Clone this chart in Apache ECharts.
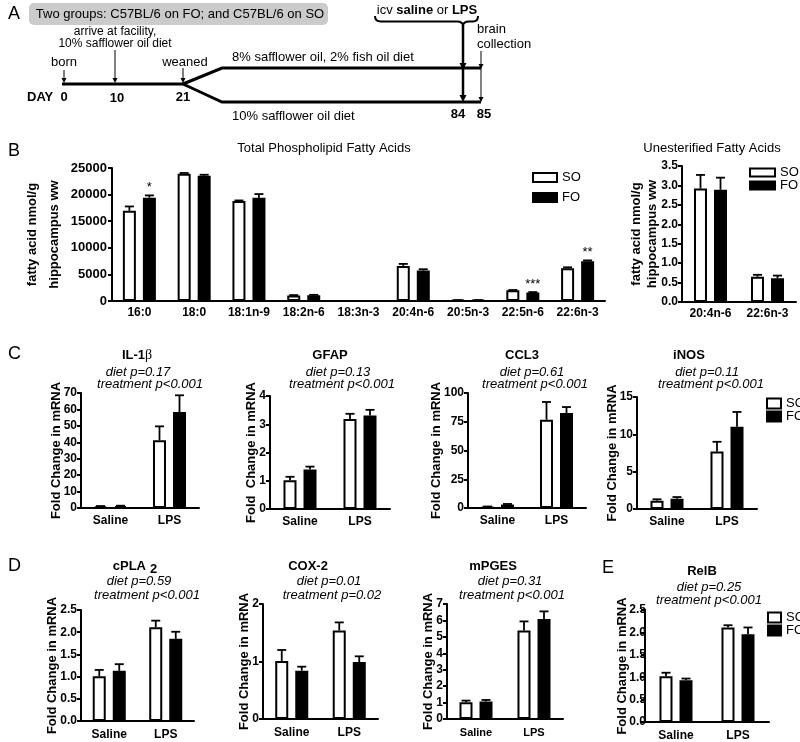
<!DOCTYPE html>
<html><head><meta charset="utf-8">
<script src="https://cdn.jsdelivr.net/npm/echarts@6/dist/echarts.min.js"></script>
<style>html,body{margin:0;padding:0;background:#fff}#c{width:800px;height:742px}</style>
</head><body><div id="c"></div>
<script>
// ---------------- data ----------------
const groups = ['SO', 'FO'];
// B: total phospholipid fatty acids (nmol/g hippocampus ww)
const faCats = ['16:0', '18:0', '18:1n-9', '18:2n-6', '18:3n-3', '20:4n-6', '20:5n-3', '22:5n-6', '22:6n-3'];
const faSO = [16950, 23930, 18780, 1050, 0, 6600, 150, 2000, 6150];
const faSOsem = [820, 130, 120, 60, 0, 370, 20, 70, 180];
const faFO = [19400, 23550, 19400, 1100, 0, 5720, 150, 1620, 7450];
const faFOsem = [450, 180, 700, 60, 0, 250, 20, 60, 180];
const faStars = ['*', '', '', '', '', '', '', '***', '**'];
// B: unesterified fatty acids
const ufaCats = ['20:4n-6', '22:6n-3'];
const ufaSO = [2.92, 0.65];
const ufaSOsem = [0.35, 0.05];
const ufaFO = [2.89, 0.61];
const ufaFOsem = [0.31, 0.07];
// C, D, E: fold change in mRNA
const treatCats = ['Saline', 'LPS'];
const il1bSO = [1.0, 41.2], il1bSOsem = [0.2, 8.5], il1bFO = [1.2, 58.4], il1bFOsem = [0.2, 10.2];
const gfapSO = [1.02, 3.19], gfapSOsem = [0.12, 0.18], gfapFO = [1.40, 3.31], gfapFOsem = [0.10, 0.20];
const ccl3SO = [1.0, 76.8], ccl3SOsem = [0.3, 15.4], ccl3FO = [3.0, 82.6], ccl3FOsem = [0.5, 5.2];
const inosSO = [1.1, 7.7], inosSOsem = [0.2, 1.3], inosFO = [1.37, 11.0], inosFOsem = [0.23, 2.0];
const cplaSO = [1.01, 2.11], cplaSOsem = [0.14, 0.15], cplaFO = [1.13, 1.85], cplaFOsem = [0.15, 0.16];
const coxSO = [1.01, 1.54], coxSOsem = [0.19, 0.14], coxFO = [0.84, 0.99], coxFOsem = [0.07, 0.10];
const mpgesSO = [1.02, 5.39], mpgesSOsem = [0.10, 0.55], mpgesFO = [1.06, 6.08], mpgesFOsem = [0.10, 0.47];
const relbSO = [1.02, 2.11], relbSOsem = [0.08, 0.05], relbFO = [0.93, 1.96], relbFOsem = [0.04, 0.15];

// ---------------- layout ----------------
const F = "'Liberation Sans', Arial, Helvetica, sans-serif";
const FC = 'Fold Change in mRNA';
const panels = [
  {cats: faCats, so: faSO, soSem: faSOsem, fo: faFO, foSem: faFOsem, stars: faStars,
   grid: {left: 112, top: 168, width: 493, height: 133}, max: 25000, interval: 5000, dec: 0,
   name: 'fatty acid nmol/g\nhippocampus ww', nameGap: 47, lh: 22, lm: 5, yf: 13, xm: 6, xf: 12},
  {cats: ufaCats, so: ufaSO, soSem: ufaSOsem, fo: ufaFO, foSem: ufaFOsem,
   grid: {left: 682, top: 166, width: 114, height: 136}, max: 3.5, interval: 0.5, dec: 1,
   name: 'fatty acid nmol/g\nhippocampus ww', nameGap: 22, lh: 16, lm: 4, yf: 12, xm: 6, xf: 12},
  {cats: treatCats, so: il1bSO, soSem: il1bSOsem, fo: il1bFO, foSem: il1bFOsem,
   grid: {left: 81, top: 393, width: 118, height: 115}, max: 70, interval: 10, dec: 0, name: FC, nameGap: 18, lh: 14, lm: 4, yf: 12, xm: 7, xf: 12},
  {cats: treatCats, so: gfapSO, soSem: gfapSOsem, fo: gfapFO, foSem: gfapFOsem,
   grid: {left: 270, top: 396, width: 120, height: 113}, max: 4, interval: 1, dec: 0, name: 'Fold  Change in mRNA', nameGap: 12, lh: 14, lm: 4, yf: 12, xm: 7, xf: 12},
  {cats: treatCats, so: ccl3SO, soSem: ccl3SOsem, fo: ccl3FO, foSem: ccl3FOsem,
   grid: {left: 468, top: 393, width: 118, height: 115}, max: 100, interval: 25, dec: 0, name: FC, nameGap: 25, lh: 14, lm: 4, yf: 12, xm: 7, xf: 12},
  {cats: treatCats, so: inosSO, soSem: inosSOsem, fo: inosFO, foSem: inosFOsem,
   grid: {left: 637, top: 397, width: 120, height: 112}, max: 15, interval: 5, dec: 0, name: FC, nameGap: 18, lh: 14, lm: 4, yf: 12, xm: 7, xf: 12},
  {cats: treatCats, so: cplaSO, soSem: cplaSOsem, fo: cplaFO, foSem: cplaFOsem,
   grid: {left: 81, top: 610, width: 113, height: 111}, max: 2.5, interval: 0.5, dec: 1, name: FC, nameGap: 22, lh: 14, lm: 4, yf: 12, xm: 8, xf: 12},
  {cats: treatCats, so: coxSO, soSem: coxSOsem, fo: coxFO, foSem: coxFOsem,
   grid: {left: 263, top: 604, width: 115, height: 115}, max: 2, interval: 1, dec: 0, name: FC, nameGap: 12, lh: 14, lm: 4, yf: 12, xm: 8, xf: 12},
  {cats: treatCats, so: mpgesSO, soSem: mpgesSOsem, fo: mpgesFO, foSem: mpgesFOsem,
   grid: {left: 447, top: 604, width: 116, height: 115}, max: 7, interval: 1, dec: 0, name: FC, nameGap: 12, lh: 14, lm: 4, yf: 12, xm: 8, xf: 11},
  {cats: treatCats, so: relbSO, soSem: relbSOsem, fo: relbFO, foSem: relbFOsem,
   grid: {left: 645, top: 610, width: 124, height: 112}, max: 2.5, interval: 0.5, dec: 1, name: FC, nameGap: 16, lh: 14, lm: -1, yf: 12, xm: 8, xf: 12}
];

const BW = 13, DX = 10;
function errSeries(i, means, sems, dx, stars) {
  return {
    type: 'custom', xAxisIndex: i, yAxisIndex: i, z: 5, silent: true,
    data: means.map((m, k) => [k, m, m + sems[k]]),
    renderItem: function (params, api) {
      const base = api.coord([api.value(0), api.value(1)]);
      const top = api.coord([api.value(0), api.value(2)]);
      const x = base[0] + dx;
      const children = [];
      if (api.value(2) > api.value(1)) {
        children.push({type: 'line', shape: {x1: x, y1: base[1], x2: x, y2: top[1]}, style: {stroke: '#000', lineWidth: 1.8}});
        children.push({type: 'line', shape: {x1: x - 4.5, y1: top[1], x2: x + 4.5, y2: top[1]}, style: {stroke: '#000', lineWidth: 1.8}});
      }
      const s = stars ? stars[params.dataIndex] : '';
      if (s) {
        children.push({type: 'text', x: x, y: top[1] - 1, style: {text: s, fill: '#000', font: '13px ' + F, align: 'center', verticalAlign: 'bottom'}});
      }
      return {type: 'group', children: children};
    }
  };
}

const grid = panels.map(p => p.grid);
const xAxis = panels.map((p, i) => ({
  type: 'category', gridIndex: i, data: p.cats,
  axisLine: {lineStyle: {color: '#000', width: 2}},
  axisTick: {alignWithLabel: true, length: 4, lineStyle: {color: '#000', width: 2}},
  axisLabel: {interval: 0, color: '#000', fontWeight: 'bold', fontSize: p.xf, fontFamily: F, margin: p.xm}
}));
const yAxis = panels.map((p, i) => ({
  type: 'value', gridIndex: i, min: 0, max: p.max, interval: p.interval,
  splitLine: {show: false},
  axisLine: {show: true, lineStyle: {color: '#000', width: 2}},
  axisTick: {show: true, length: 4, lineStyle: {color: '#000', width: 2}},
  axisLabel: {color: '#000', fontWeight: 'bold', fontSize: p.yf, fontFamily: F, margin: p.lm,
    formatter: v => v.toFixed(p.dec)},
  name: p.name, nameLocation: 'middle', nameRotate: 90, nameGap: p.nameGap, nameMoveOverlap: false,
  nameTextStyle: {color: '#000', fontWeight: 'bold', fontSize: 13, fontFamily: F, lineHeight: p.lh}
}));
const series = [];
panels.forEach((p, i) => {
  series.push({type: 'bar', name: groups[0], xAxisIndex: i, yAxisIndex: i, data: p.so, barWidth: BW, barGap: '54%',
    itemStyle: {color: '#fff', borderColor: '#000', borderWidth: 2}, silent: true});
  series.push({type: 'bar', name: groups[1], xAxisIndex: i, yAxisIndex: i, data: p.fo, barWidth: BW, barGap: '54%',
    itemStyle: {color: '#000', borderColor: '#000', borderWidth: 2}, silent: true});
  series.push(errSeries(i, p.so, p.soSem, -DX, null));
  series.push(errSeries(i, p.fo, p.foSem, DX, p.stars));
});

const legData = [
  {name: groups[0], itemStyle: {color: '#fff', borderColor: '#000', borderWidth: 2}},
  {name: groups[1], itemStyle: {color: '#000', borderColor: '#000', borderWidth: 2}}
];
function leg(left, top, w, h, gap) {
  return {left: left, top: top, orient: 'vertical', padding: 0, itemWidth: w, itemHeight: h, itemGap: gap,
    selectedMode: false, icon: 'rect', data: legData,
    textStyle: {color: '#000', fontSize: 13, fontFamily: F}};
}
const legend = [leg(532, 171, 24, 9, 7), leg(749, 166, 25, 8, 0), leg(766, 397, 14, 10, 0), leg(767, 611, 13, 10, 0)];

// ---------------- text & diagram ----------------
function T(x, y, text, font, align) {
  return {type: 'text', x: x, y: y, style: {text: text, fill: '#000', font: font, align: align || 'center', verticalAlign: 'middle'}};
}
const n13 = '13px ' + F, b13 = 'bold 13px ' + F, i13 = 'italic 13px ' + F, L18 = '18px ' + F;
function line(pts, w) { return {type: 'polyline', shape: {points: pts}, style: {stroke: '#000', lineWidth: w, fill: null}}; }
function head(x, y, hw, hl) { return {type: 'polygon', shape: {points: [[x - hw, y - hl], [x + hw, y - hl], [x, y]]}, style: {fill: '#000'}}; }
function curve(x1, y1, cx, cy, x2, y2) {
  return {type: 'bezierCurve', shape: {x1: x1, y1: y1, cpx1: cx, cpy1: cy, x2: x2, y2: y2}, style: {stroke: '#000', lineWidth: 2, fill: null}};
}

const graphic = [
  // Panel A
  T(8, 14, 'A', L18, 'left'),
  {type: 'rect', shape: {x: 29, y: 3, width: 299, height: 22, r: 5}, style: {fill: '#cbcbcb'}},
  T(180, 14, 'Two groups: C57BL/6 on FO; and C57BL/6 on SO', n13),
  T(115, 32, 'arrive at facility,', '12px ' + F),
  T(115, 44, '10% safflower oil diet', '12px ' + F),
  T(64, 62, 'born', n13),
  T(185, 62, 'weaned', n13),
  line([[64, 70], [64, 81]], 1), head(64, 83, 2.5, 5),
  line([[115, 50], [115, 81]], 1), head(115, 83, 2.5, 5),
  line([[183, 68], [183, 81]], 1), head(183, 83, 2.5, 5),
  line([[62, 84], [183, 84]], 3),
  line([[183, 84], [222, 68], [481, 68]], 3),
  line([[183, 84], [222, 102], [481, 102]], 3),
  T(232, 57, '8% safflower oil, 2% fish oil diet', n13, 'left'),
  T(232, 116, '10% safflower oil diet', n13, 'left'),
  T(27, 97, 'DAY', b13, 'left'),
  T(64, 97, '0', b13), T(117, 98, '10', b13), T(183, 97, '21', b13),
  T(458, 114, '84', b13), T(484, 114, '85', b13),
  {type: 'text', x: 427, y: 10, style: {text: '{n|icv }{b|saline}{n| or }{b|LPS}', verticalAlign: 'middle', align: 'center',
    rich: {n: {font: n13, fill: '#000'}, b: {font: b13, fill: '#000'}}}},
  curve(375, 16, 375, 21.5, 381, 21.5), line([[381, 21.5], [457, 21.5]], 2), curve(457, 21.5, 463, 21.5, 463, 26),
  curve(463, 26, 463, 21.5, 469, 21.5), line([[469, 21.5], [473, 21.5]], 2), curve(473, 21.5, 478, 21.5, 478, 16),
  line([[463, 25], [463, 96]], 2.5), head(463, 70, 3.5, 7), head(463, 102, 3.5, 7),
  T(477, 29, 'brain', n13, 'left'), T(477, 44, 'collection', n13, 'left'),
  line([[481, 51], [481, 99]], 1), head(481, 69, 2.5, 5), head(481, 102, 2.5, 5),
  // Panel B
  T(8, 151, 'B', L18, 'left'),
  T(324, 148, 'Total Phospholipid Fatty Acids', n13),
  T(712, 148, 'Unesterified Fatty Acids', n13),
  // Panel C
  T(8, 354, 'C', L18, 'left'),
  {type: 'text', x: 137, y: 355, style: {text: '{b|IL-1}{g|β}', align: 'center', verticalAlign: 'middle',
    rich: {b: {font: b13, fill: '#000'}, g: {font: "14px 'Liberation Serif', serif", fill: '#000'}}}},
  T(138, 372, 'diet p=0.17', i13), T(150, 384, 'treatment p<0.001', i13),
  T(330, 355, 'GFAP', b13), T(338, 372, 'diet p=0.13', i13), T(342, 384, 'treatment p<0.001', i13),
  T(522, 355, 'CCL3', b13), T(532, 372, 'diet p=0.61', i13), T(535, 384, 'treatment p<0.001', i13),
  T(689, 355, 'iNOS', b13), T(707, 372, 'diet p=0.11', i13), T(711, 384, 'treatment p<0.001', i13),
  // Panel D
  T(8, 566, 'D', L18, 'left'),
  {type: 'text', x: 135, y: 566, style: {text: '{b|cPLA}{s|2}', align: 'center', verticalAlign: 'middle',
    rich: {b: {font: b13, fill: '#000'}, s: {font: b13, fill: '#000', padding: [6, 0, 0, 4]}}}},
  T(139, 581, 'diet p=0.59', i13), T(147, 595, 'treatment p<0.001', i13),
  T(308, 566, 'COX-2', b13), T(329, 581, 'diet p=0.01', i13), T(332, 595, 'treatment p=0.02', i13),
  T(493, 566, 'mPGES', b13), T(510, 581, 'diet p=0.31', i13), T(512, 595, 'treatment p<0.001', i13),
  // Panel E
  T(602, 568, 'E', L18, 'left'),
  T(702, 571, 'RelB', b13), T(709, 587, 'diet p=0.25', i13), T(709, 600, 'treatment p<0.001', i13)
];

const chart = echarts.init(document.getElementById('c'));
chart.setOption({
  animation: false, backgroundColor: '#fff',
  grid: grid, xAxis: xAxis, yAxis: yAxis, series: series, legend: legend, graphic: graphic
});
</script></body></html>
